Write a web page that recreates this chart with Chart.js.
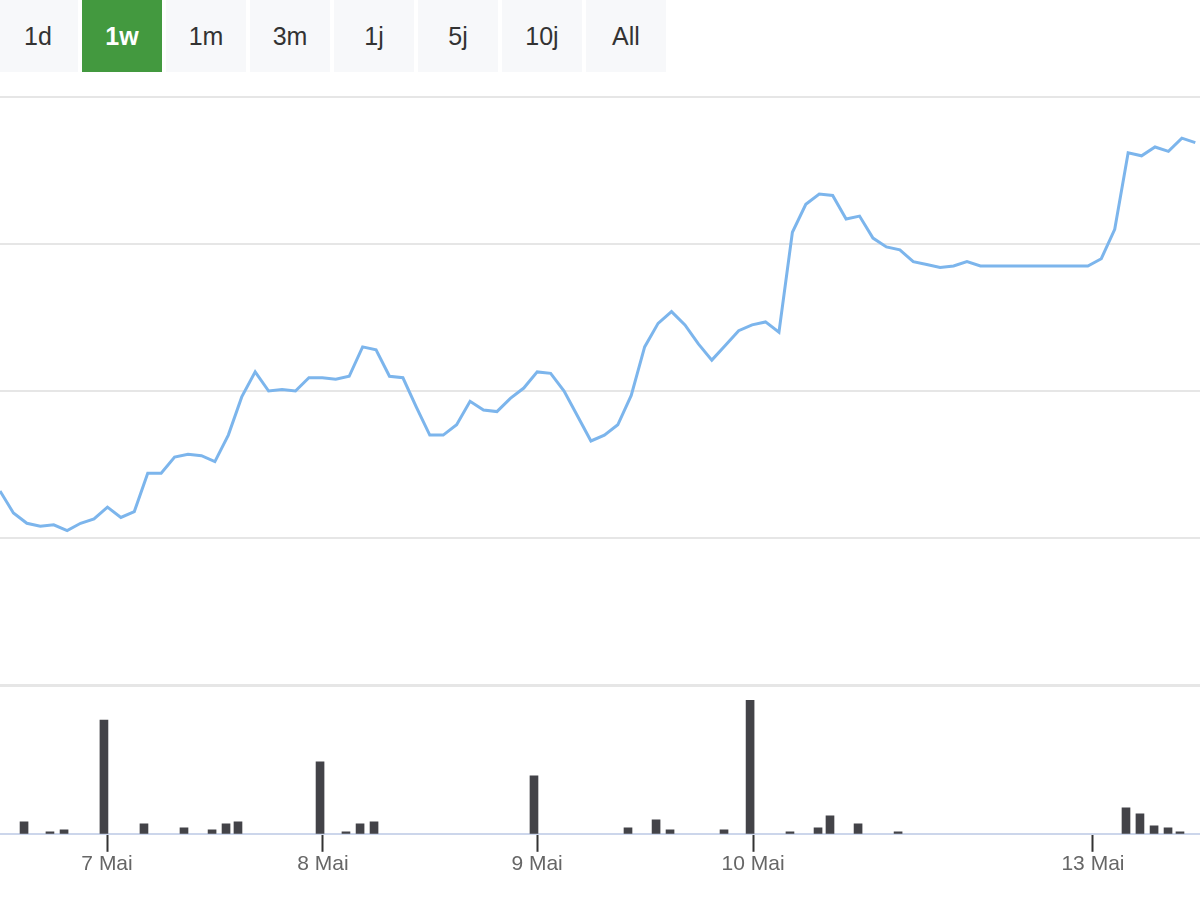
<!DOCTYPE html>
<html>
<head>
<meta charset="utf-8">
<script src="https://cdn.jsdelivr.net/npm/chart.js@4"></script>
<style>
  body { margin: 0; width: 1200px; height: 900px; background: #fff; font-family: "Liberation Sans", Arial, sans-serif; overflow: hidden; }
  #buttons { position: absolute; left: -2px; top: 0; height: 72px; display: flex; }
  #buttons div { width: 80px; height: 72px; margin-right: 4px; background: #f7f8fa; color: #333; font-size: 25px; line-height: 72px; text-align: center; }
  #buttons div.active { background: #43993f; color: #fff; font-weight: bold; }
  #priceBox { position: absolute; left: 0; top: 72px; width: 1200px; height: 613px; }
  #sep { position: absolute; left: 0; top: 684px; width: 1200px; height: 3px; background: #e6e6e6; }
  #volBox { position: absolute; left: 0; top: 687px; width: 1200px; height: 213px; }
</style>
</head>
<body>
<div id="buttons"></div>
<div id="priceBox"><canvas id="priceChart"></canvas></div>
<div id="sep"></div>
<div id="volBox"><canvas id="volChart"></canvas></div>
<script>
const ranges = ['1d', '1w', '1m', '3m', '1j', '5j', '10j', 'All'];
const activeRange = '1w';

// price per time slot (index = slot)
const prices = [1.32, 1.17, 1.10, 1.08, 1.09, 1.05, 1.10, 1.13, 1.21, 1.14, 1.18, 1.44,
  1.44, 1.55, 1.57, 1.56, 1.52, 1.70, 1.96, 2.13, 2.00, 2.01, 2.00, 2.09,
  2.09, 2.08, 2.10, 2.30, 2.28, 2.10, 2.09, 1.89, 1.70, 1.70, 1.77, 1.93,
  1.87, 1.86, 1.95, 2.02, 2.13, 2.12, 2.00, 1.83, 1.66, 1.70, 1.77, 1.97,
  2.30, 2.46, 2.54, 2.45, 2.32, 2.21, 2.31, 2.41, 2.45, 2.47, 2.40, 3.08,
  3.27, 3.34, 3.33, 3.17, 3.19, 3.04, 2.98, 2.96, 2.88, 2.86, 2.84, 2.85,
  2.88, 2.85, 2.85, 2.85, 2.85, 2.85, 2.85, 2.85, 2.85, 2.85, 2.90, 3.10,
  3.62, 3.60, 3.66, 3.63, 3.72, 3.69];

// volume bars: slot position and volume
const volSlots = [1.79, 3.72, 4.77, 7.74, 10.72, 13.70, 15.79, 16.83, 17.72, 23.83, 25.76, 26.81,
  27.85, 39.76, 46.76, 48.85, 49.89, 53.91, 55.85, 58.82, 60.91, 61.80, 63.89, 66.87,
  83.84, 84.88, 85.93, 86.97, 87.86];
const volumes = [12, 2, 4, 114, 10, 6, 4, 10, 12, 72, 2, 10,
  12, 58, 6, 14, 4, 4, 134, 2, 6, 18, 10, 2,
  26, 20, 8, 6, 2];

const dayLabels = ['7 Mai', '8 Mai', '9 Mai', '10 Mai', '13 Mai'];
const daySlots = [7.97, 24.05, 39.99, 56.07, 81.38];

const slotMax = 89.35;

const btnBox = document.getElementById('buttons');
for (const r of ranges) {
    const b = document.createElement('div');
    b.textContent = r;
    if (r === activeRange) b.className = 'active';
    btnBox.appendChild(b);
}

new Chart(document.getElementById('priceChart').getContext('2d'), {
    type: 'line',
    data: {
        datasets: [{
            data: prices.map((p, i) => ({ x: i, y: p })),
            borderColor: '#7cb5ec',
            borderWidth: 3,
            pointRadius: 0,
            tension: 0,
            fill: false
        }]
    },
    options: {
        responsive: true,
        maintainAspectRatio: false,
        animation: false,
        layout: { padding: { top: 25, bottom: 0, left: 0, right: 0 } },
        plugins: { legend: { display: false }, tooltip: { enabled: false } },
        scales: {
            x: { type: 'linear', min: 0, max: slotMax, display: false },
            y: {
                min: 0, max: 4,
                ticks: { display: false, stepSize: 1 },
                border: { display: false },
                grid: { color: '#e6e6e6', lineWidth: 2, drawTicks: false }
            }
        }
    }
});

new Chart(document.getElementById('volChart').getContext('2d'), {
    type: 'bar',
    data: {
        datasets: [{
            data: volSlots.map((s, i) => ({ x: s, y: volumes[i] })),
            backgroundColor: '#434348',
            barThickness: 8
        }]
    },
    options: {
        responsive: true,
        maintainAspectRatio: false,
        animation: false,
        layout: { padding: { top: 13, bottom: 23, left: 0, right: 0 } },
        plugins: { legend: { display: false }, tooltip: { enabled: false } },
        scales: {
            x: {
                type: 'linear', min: 0, max: slotMax,
                offset: false,
                afterBuildTicks: (axis) => { axis.ticks = daySlots.map(v => ({ value: v })); },
                ticks: {
                    autoSkip: false,
                    maxRotation: 0,
                    padding: 0,
                    color: '#666',
                    font: { size: 21, family: 'Liberation Sans' },
                    callback: (v, i) => dayLabels[i]
                },
                border: { color: '#ccd6eb', width: 2 },
                grid: { offset: false, drawOnChartArea: false, tickLength: 18, tickColor: '#333', tickWidth: 2 }
            },
            y: { min: 0, max: 134, display: false }
        }
    }
});
</script>
</body>
</html>
